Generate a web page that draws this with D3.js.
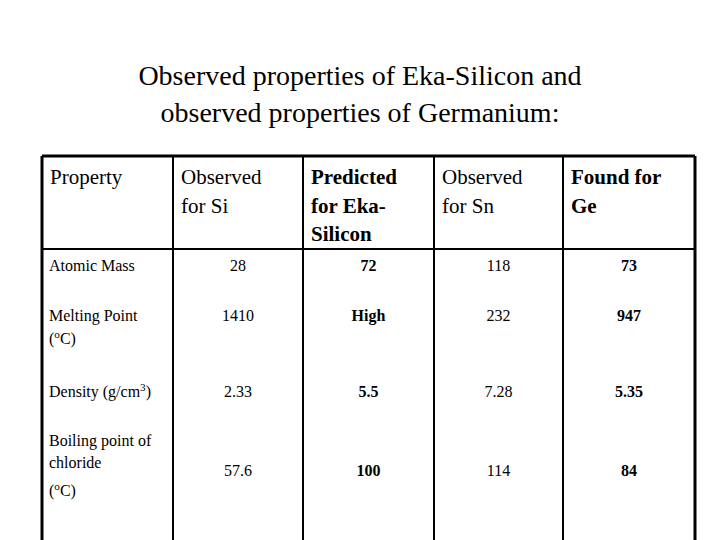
<!DOCTYPE html>
<html><head><meta charset="utf-8">
<script src="https://cdn.jsdelivr.net/npm/d3@7"></script>
<style>body{margin:0;background:#fff}text{font-family:"Liberation Serif","Times New Roman",serif;fill:#000}</style>
</head><body>
<svg id="chart" width="720" height="540"></svg>
<script>
// table content
const titleLines = ['Observed properties of Eka-Silicon and', 'observed properties of Germanium:'];
const headers = [['Property'], ['Observed', 'for Si'], ['Predicted', 'for Eka-', 'Silicon'], ['Observed', 'for Sn'], ['Found for', 'Ge']];
const boldCols = [false, false, true, false, true];
const rowLabels = [['Atomic Mass'], ['Melting Point', '(oC)'], ['Density (g/cm3)'], ['Boiling point of', 'chloride', '(oC)']];
const siValues = ['28', '1410', '2.33', '57.6'];
const ekaValues = ['72', 'High', '5.5', '100'];
const snValues = ['118', '232', '7.28', '114'];
const geValues = ['73', '947', '5.35', '84'];

const svg = d3.select('#chart');
const colEdges = [42, 173, 303, 434, 563, 695];
const tableTop = 156, headBottom = 249;

// title
svg.selectAll('.title').data(titleLines).enter().append('text')
  .attr('x', 360).attr('y', (d, i) => 85 + i * 37)
  .attr('text-anchor', 'middle').style('font-size', '28px').text(d => d);

// grid lines
const g = svg.append('g').attr('stroke', '#000');
g.append('line').attr('x1', colEdges[0]).attr('x2', colEdges[5]).attr('y1', tableTop).attr('y2', tableTop).attr('stroke-width', 3);
g.append('line').attr('x1', colEdges[0]).attr('x2', colEdges[5]).attr('y1', headBottom).attr('y2', headBottom).attr('stroke-width', 2);
g.selectAll('.v').data(colEdges).enter().append('line')
  .attr('x1', d => d).attr('x2', d => d).attr('y1', tableTop).attr('y2', 540)
  .attr('stroke-width', (d, i) => (i === 0 || i === 5) ? 3 : 2);

// headers
headers.forEach((lines, c) => {
  lines.forEach((t, k) => {
    svg.append('text').attr('x', colEdges[c] + 8).attr('y', 184 + k * 28.5)
      .style('font-size', '21px').style('font-weight', boldCols[c] ? 'bold' : 'normal').text(t);
  });
});

// superscript helper
function addText(x, y, str, size, anchor, bold) {
  const t = svg.append('text').attr('x', x).attr('y', y).attr('text-anchor', anchor)
    .style('font-size', size + 'px').style('font-weight', bold ? 'bold' : 'normal');
  const m = str.match(/^(.*?\()(o)(C\))$/) || str.match(/^(.*?cm)(3)(\))$/);
  if (m) {
    t.append('tspan').text(m[1]);
    t.append('tspan').attr('dy', -6).style('font-size', (size * 0.7) + 'px').text(m[2]);
    t.append('tspan').attr('dy', 6).text(m[3]);
  } else t.text(str);
}

const labelYs = [[271], [321, 344], [397], [446, 468, 496]];
const valueYs = [271, 321, 397, 476];
rowLabels.forEach((lines, r) => lines.forEach((t, k) => addText(49, labelYs[r][k], t, 16, 'start', false)));
[siValues, ekaValues, snValues, geValues].forEach((vals, ci) => {
  const c = ci + 1;
  const cx = (colEdges[c] + colEdges[c + 1]) / 2;
  vals.forEach((v, r) => addText(cx, valueYs[r], v, 16, 'middle', boldCols[c]));
});
</script>
</body></html>
